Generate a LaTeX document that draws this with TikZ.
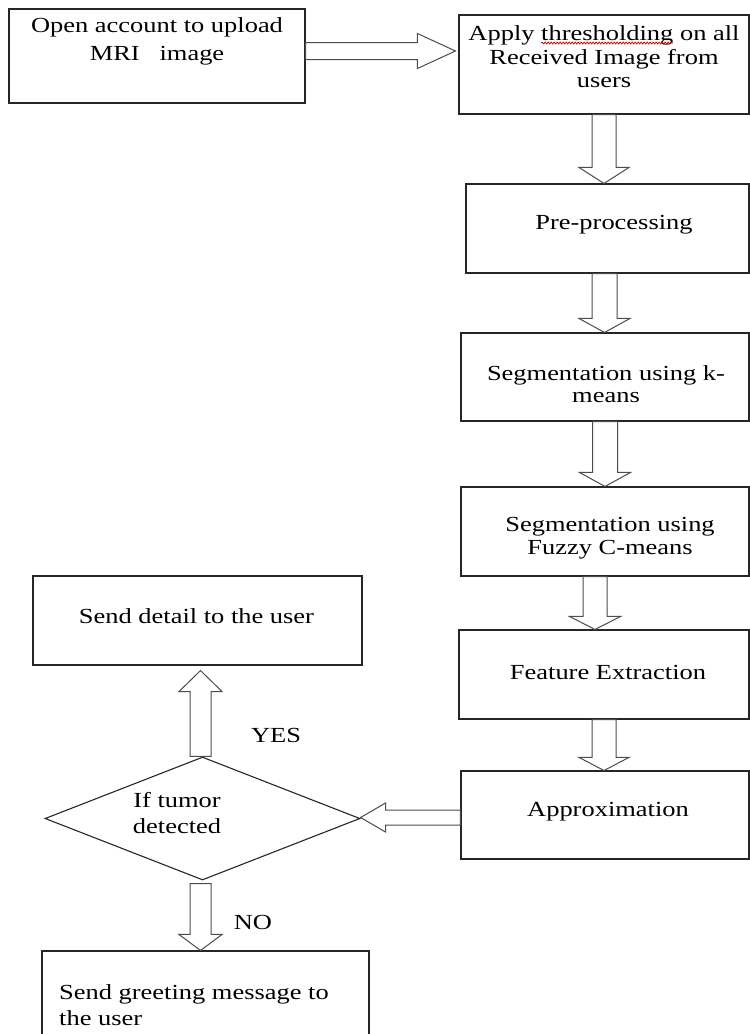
\documentclass[tikz,border=0pt]{standalone}
\usepackage{fontspec}
\setmainfont{Liberation Serif}[FakeStretch=1.23]
\usetikzlibrary{calc,shapes.geometric,decorations.pathmorphing}
\newlength\lineA \newlength\preA \newlength\thrA
\newcommand\fsz{\fontsize{21.5pt}{24pt}\selectfont}
\tikzset{
  box/.style={draw=black!85, line width=1.1pt, inner sep=0pt},
  blk/.style={draw=black!70, line width=1pt, fill=white},
  txt/.style={font=\fontsize{21.5pt}{#1}\selectfont, align=center, inner sep=0pt, text=black},
  txt/.default=24pt,
  wave/.style={draw=red!85!black, line width=0.8pt, decorate, decoration={snake, amplitude=0.9pt, segment length=3pt}}
}
\newcommand\blkdown[5]{\draw[blk] let \p1=(#1), \p2=(#2) in (\x1-#3pt,\y1) -- (\x1+#3pt,\y1) -- (\x1+#3pt,\y2+#5pt) -- (\x1+#4pt,\y2+#5pt) -- (\x1,\y2) -- (\x1-#4pt,\y2+#5pt) -- (\x1-#3pt,\y2+#5pt) -- cycle;}
\newcommand\blkup[5]{\draw[blk] let \p1=(#1), \p2=(#2) in (\x1-#3pt,\y1) -- (\x1+#3pt,\y1) -- (\x1+#3pt,\y2-#5pt) -- (\x1+#4pt,\y2-#5pt) -- (\x1,\y2) -- (\x1-#4pt,\y2-#5pt) -- (\x1-#3pt,\y2-#5pt) -- cycle;}
\newcommand\blkright[5]{\draw[blk] let \p1=(#1), \p2=(#2) in (\x1,\y1+#3pt) -- (\x2-#5pt,\y1+#3pt) -- (\x2-#5pt,\y1+#4pt) -- (\x2,\y1) -- (\x2-#5pt,\y1-#4pt) -- (\x2-#5pt,\y1-#3pt) -- (\x1,\y1-#3pt) -- cycle;}
\newcommand\blkleft[5]{\draw[blk] let \p1=(#1), \p2=(#2) in (\x1,\y1+#3pt) -- (\x2+#5pt,\y1+#3pt) -- (\x2+#5pt,\y1+#4pt) -- (\x2,\y1) -- (\x2+#5pt,\y1-#4pt) -- (\x2+#5pt,\y1-#3pt) -- (\x1,\y1-#3pt) -- cycle;}
\begin{document}
\settowidth\lineA{\fsz Apply thresholding on all}%
\settowidth\preA{\fsz Apply }%
\settowidth\thrA{\fsz thresholding}%
\begin{tikzpicture}[x=1pt,y=-1pt]
\useasboundingbox (0,0) rectangle (750,1034);
\clip (0,0) rectangle (750,1034);
% boxes
\node[box, minimum width=296pt, minimum height=94pt] (b1) at (157,56) {};
\node[box, minimum width=290pt, minimum height=99pt] (b2) at (604,64.5) {};
\node[box, minimum width=283pt, minimum height=89pt] (pr) at (607.5,228.5) {};
\node[box, minimum width=288pt, minimum height=88pt] (km) at (605,377) {};
\node[box, minimum width=288pt, minimum height=89pt] (fz) at (605,531.5) {};
\node[box, minimum width=290pt, minimum height=89pt] (fe) at (604,674.5) {};
\node[box, minimum width=288pt, minimum height=88pt] (ap) at (605,815) {};
\node[box, minimum width=329pt, minimum height=89pt] (sd) at (197.5,620.5) {};
\node[box, minimum width=327pt, minimum height=94pt] (gr) at (205.5,998) {};
% arrows
\blkright{[yshift=5pt]b1.east}{[xshift=-3pt]b2.west}{8.5}{17.5}{38}
\blkdown{b2.south}{pr.north}{12}{25}{16}
\blkdown{[xshift=-3pt]pr.south}{km.north}{12.5}{25.5}{14}
\blkdown{km.south}{fz.north}{12.5}{25.5}{14}
\blkdown{[xshift=-10pt]fz.south}{fe.north}{12}{25.5}{13}
\blkdown{fe.south}{ap.north}{12}{25}{13}
% diamond
\node[draw=black!85, line width=1.1pt, shape=diamond, inner sep=0pt, minimum width=315pt, minimum height=123pt] (dm) at (202.5,818.5) {};
\blkleft{[yshift=-2.5pt]ap.west}{dm.east}{7.5}{14.5}{25}
\blkup{[xshift=-2pt]dm.north}{[yshift=-5pt]sd.south}{10.5}{21.5}{21}
\blkdown{[xshift=-2pt,yshift=-3pt]dm.south}{gr.north}{10.5}{21.5}{16}
% texts
\node[txt=28pt] (t1) at (157,41) {Open account to upload\\MRI~~~image};
\node[txt=23.5pt] (t2) at (604,57) {Apply thresholding on all\\Received Image from\\users};
\coordinate (w1) at ([xshift={-0.5\lineA+\preA}]604,43);
\coordinate (w2) at ([xshift=\thrA]w1);
\draw[wave] (w1) -- (w2);
\node[txt] (tpr) at (614,225) {Pre-processing};
\node[txt=22pt] (tkm) at (606,384) {Segmentation using k-\\means};
\node[txt=23pt] (tfz) at (610,538.5) {Segmentation using\\Fuzzy C-means};
\node[txt] (tfe) at (608,672) {Feature Extraction};
\node[txt] (tap) at (608,812) {Approximation};
\node[txt] (tsd) at (196.5,616) {Send detail to the user};
\node[txt=26pt] (tdm) at (177,813) {If tumor\\detected};
\node[txt] (yes) at (276,735) {YES};
\node[txt] (no) at (253,922) {NO};
\node[txt=26pt, align=left, anchor=west] (tgr) at (59,1005) {Send greeting message to\\the user};
\end{tikzpicture}
\end{document}
